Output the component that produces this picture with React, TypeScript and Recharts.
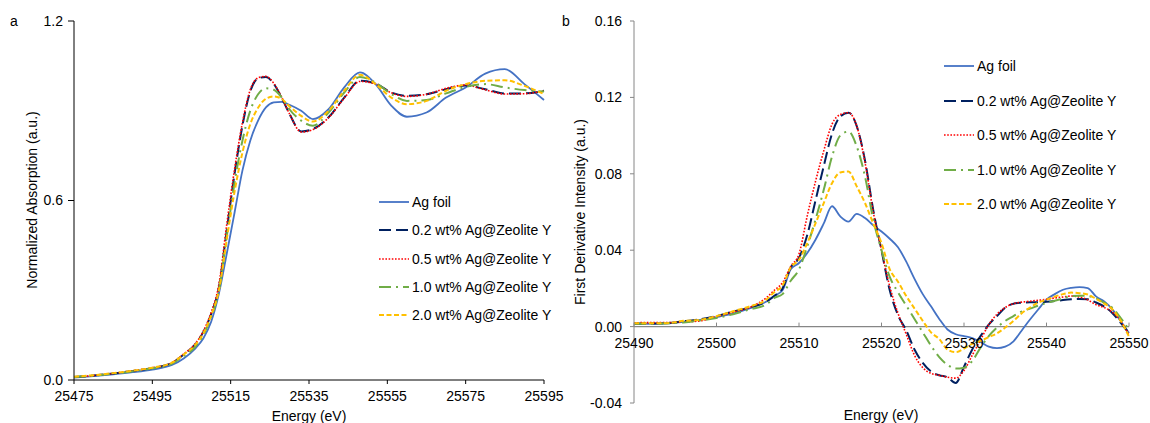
import React from 'react';
import { LineChart, Line, XAxis, YAxis, ReferenceLine, Legend } from 'recharts';

// panel a: normalized Ag K-edge XANES
const absEnergy = [
  25475, 25480, 25485, 25490, 25495, 25500, 25503, 25506, 25508, 25510, 25512, 25514,
  25516, 25518, 25520, 25522, 25524, 25526, 25528, 25530, 25533, 25536, 25540, 25544,
  25548, 25552, 25556, 25560, 25565, 25570, 25575, 25580, 25585, 25590, 25595,
];
const absAgFoil = [
  0.008, 0.013, 0.019, 0.026, 0.035, 0.05, 0.072, 0.106, 0.139, 0.194, 0.289, 0.422,
  0.56, 0.7, 0.8, 0.867, 0.911, 0.928, 0.93, 0.92, 0.9, 0.872, 0.905, 0.978,
  1.028, 0.989, 0.917, 0.88, 0.894, 0.944, 0.978, 1.024, 1.039, 0.989, 0.936,
];
const absAg02 = [
  0.01, 0.015, 0.022, 0.03, 0.04, 0.057, 0.085, 0.12, 0.16, 0.22, 0.31, 0.5,
  0.69, 0.85, 0.965, 1.008, 1.013, 0.99, 0.944, 0.89, 0.831, 0.839, 0.878, 0.944,
  1.0, 0.991, 0.961, 0.95, 0.955, 0.972, 0.984, 0.972, 0.958, 0.958, 0.967,
];
const absAg05 = [
  0.01, 0.015, 0.022, 0.031, 0.041, 0.058, 0.087, 0.122, 0.163, 0.225, 0.32, 0.52,
  0.705, 0.86, 0.97, 1.01, 1.015, 0.992, 0.946, 0.89, 0.829, 0.837, 0.877, 0.942,
  0.998, 0.99, 0.96, 0.948, 0.955, 0.975, 0.986, 0.97, 0.956, 0.957, 0.966,
];
const absAg10 = [
  0.01, 0.014, 0.021, 0.029, 0.039, 0.055, 0.08, 0.112, 0.15, 0.21, 0.3, 0.48,
  0.66, 0.8, 0.9, 0.955, 0.975, 0.97, 0.945, 0.905, 0.867, 0.85, 0.894, 0.961,
  1.013, 0.994, 0.956, 0.933, 0.936, 0.958, 0.98, 0.989, 0.978, 0.969, 0.964,
];
const absAg20 = [
  0.011, 0.016, 0.023, 0.031, 0.041, 0.058, 0.085, 0.118, 0.155, 0.215, 0.3, 0.47,
  0.63, 0.76, 0.855, 0.91, 0.94, 0.948, 0.94, 0.915, 0.883, 0.864, 0.9, 0.967,
  1.02, 0.989, 0.944, 0.922, 0.933, 0.967, 0.989, 1.0, 1.002, 0.983, 0.956,
];
const absXTicks = [25475, 25495, 25515, 25535, 25555, 25575, 25595];
const absYTicks = [0, 0.6, 1.2];

// panel b: first derivative
const derivEnergy = [
  25490, 25492, 25494, 25496, 25498, 25500, 25502, 25504, 25506, 25507, 25508, 25509,
  25510, 25511, 25512, 25513, 25514, 25515, 25516, 25517, 25518, 25519, 25520, 25521,
  25522, 25523, 25524, 25525, 25526, 25527, 25528, 25529, 25530, 25531, 25532, 25533,
  25534, 25535, 25536, 25537, 25538, 25539, 25540, 25541, 25542, 25543, 25544, 25545,
  25546, 25547, 25548, 25549, 25550,
];
const derivAgFoil = [
  0.0015, 0.0015, 0.0016, 0.0025, 0.0035, 0.005, 0.0068, 0.0095, 0.013, 0.016, 0.019, 0.03,
  0.0333, 0.0385, 0.0455, 0.054, 0.063, 0.0577, 0.055, 0.059, 0.0568, 0.053, 0.0498, 0.046,
  0.0415, 0.034, 0.025, 0.017, 0.0106, 0.004, -0.0015, -0.004, -0.005, -0.006, -0.008, -0.0105,
  -0.0113, -0.0105, -0.0077, -0.002, 0.0037, 0.009, 0.0141, 0.017, 0.0193, 0.0203, 0.0207, 0.0202,
  0.0158, 0.0132, 0.0089, 0.0028, -0.0033,
];
const derivAg02 = [
  0.0015, 0.0016, 0.0018, 0.0028, 0.0038, 0.0055, 0.0078, 0.01, 0.013, 0.016, 0.02, 0.031,
  0.036, 0.048, 0.066, 0.084, 0.101, 0.11, 0.112, 0.105, 0.087, 0.061, 0.04, 0.019,
  0.006, -0.002, -0.012, -0.019, -0.0235, -0.0255, -0.0265, -0.0295, -0.021, -0.012, -0.005, 0.001,
  0.0055, 0.01, 0.012, 0.0125, 0.0127, 0.0127, 0.013, 0.0134, 0.0139, 0.0143, 0.0145, 0.0143,
  0.0126, 0.0105, 0.007, 0.002, -0.0035,
];
const derivAg05 = [
  0.002, 0.0021, 0.0021, 0.0024, 0.003, 0.0052, 0.0075, 0.01, 0.015, 0.019, 0.023, 0.0315,
  0.038, 0.058, 0.076, 0.092, 0.106, 0.111, 0.112, 0.105, 0.086, 0.06, 0.04, 0.021,
  0.007, -0.004, -0.015, -0.0215, -0.0245, -0.0255, -0.0265, -0.027, -0.023, -0.015, -0.007, 0.001,
  0.0065, 0.01, 0.012, 0.0128, 0.0133, 0.0138, 0.0143, 0.015, 0.0155, 0.016, 0.0155, 0.014,
  0.0115, 0.01, 0.0075, 0.003, -0.0045,
];
const derivAg10 = [
  0.0015, 0.0015, 0.0017, 0.0022, 0.0032, 0.0045, 0.0065, 0.009, 0.0115, 0.015, 0.017, 0.024,
  0.03, 0.042, 0.056, 0.0716, 0.089, 0.1, 0.1021, 0.0943, 0.0786, 0.056, 0.04, 0.026,
  0.018, 0.011, 0.004, -0.003, -0.01, -0.016, -0.02, -0.022, -0.0215, -0.018, -0.011, -0.005,
  -0.0005, 0.003, 0.0055, 0.008, 0.0094, 0.011, 0.0124, 0.0135, 0.0148, 0.016, 0.0162, 0.016,
  0.0148, 0.0125, 0.0098, 0.0045, -0.0017,
];
const derivAg20 = [
  0.0018, 0.0018, 0.0018, 0.003, 0.0035, 0.0055, 0.008, 0.0105, 0.014, 0.018, 0.0215, 0.031,
  0.035, 0.0437, 0.054, 0.0647, 0.0751, 0.0807, 0.0812, 0.0734, 0.0647, 0.054, 0.0437, 0.03,
  0.0235, 0.016, 0.0095, 0.003, -0.003, -0.0065, -0.012, -0.0134, -0.0115, -0.009, -0.0075, -0.0055,
  -0.0035, -0.0005, 0.003, 0.007, 0.01, 0.0125, 0.0141, 0.0157, 0.017, 0.0178, 0.0175, 0.0168,
  0.0145, 0.012, 0.009, 0.003, -0.0052,
];
const derivXTicks = [25490, 25500, 25510, 25520, 25530, 25540, 25550];
const derivYTicks = [-0.04, 0, 0.04, 0.08, 0.12, 0.16];

const seriesNames = [
  'Ag foil',
  '0.2 wt% Ag@Zeolite Y',
  '0.5 wt% Ag@Zeolite Y',
  '1.0 wt% Ag@Zeolite Y',
  '2.0 wt% Ag@Zeolite Y',
];

const seriesStyles = [
  { key: 'foil', color: '#4472C4', width: 1.8, dash: undefined },
  { key: 's02', color: '#002060', width: 2, dash: '12 5' },
  { key: 's05', color: '#FF0000', width: 1.6, dash: '1.6 1.6' },
  { key: 's10', color: '#70AD47', width: 2, dash: '12 5 2 5' },
  { key: 's20', color: '#FFC000', width: 2, dash: '5 2.5' },
];

const absRows = absEnergy.map((e, i) => ({
  e, foil: absAgFoil[i], s02: absAg02[i], s05: absAg05[i], s10: absAg10[i], s20: absAg20[i],
}));
const derivRows = derivEnergy.map((e, i) => ({
  e, foil: derivAgFoil[i], s02: derivAg02[i], s05: derivAg05[i], s10: derivAg10[i], s20: derivAg20[i],
}));

const FONT = '"Liberation Sans", Arial, sans-serif';
const GREY = '#868686';

// right panel plot box (inside its own svg)
const B_TOP = 21;
const B_BOTTOM = 403;
const zeroY = B_TOP + ((B_BOTTOM - B_TOP) * 0.16) / 0.2;

const ZeroAxisTick = (props: any) => {
  const { x, payload } = props;
  return (
    <g>
      <line x1={x} x2={x} y1={zeroY - 4} y2={zeroY} stroke={GREY} />
      <text x={x} y={zeroY + 21} textAnchor="middle" fontSize={14} fill="#000">
        {payload.value}
      </text>
    </g>
  );
};

const LegendList = ({ rowH }: { rowH: number }) => (
  <div style={{ fontFamily: FONT, fontSize: 14, color: '#000' }}>
    {seriesStyles.map((s, i) => (
      <div key={s.key} style={{ display: 'flex', alignItems: 'center', height: rowH }}>
        <svg width={32} height={10} style={{ display: 'block' }}>
          <line x1={1} y1={5} x2={31} y2={5} stroke={s.color} strokeWidth={s.width} strokeDasharray={s.dash} />
        </svg>
        <span style={{ marginLeft: 2, whiteSpace: 'nowrap' }}>{seriesNames[i]}</span>
      </div>
    ))}
  </div>
);

const textAbs = (left: number, top: number, rotate = false): React.CSSProperties => ({
  position: 'absolute',
  left,
  top,
  transform: rotate ? 'translate(-50%, -50%) rotate(-90deg)' : 'translate(-50%, -50%)',
  whiteSpace: 'nowrap',
  fontSize: 14,
  fontFamily: FONT,
  color: '#000',
});

export default function App() {
  return (
    <div style={{ position: 'absolute', left: 0, top: 0, width: 1150, height: 423, background: '#fff', fontFamily: FONT, overflow: 'hidden' }}>
      <div style={{ position: 'absolute', left: 0, top: 0 }}>
        <LineChart width={580} height={423} data={absRows} margin={{ top: 21, right: 36, bottom: 0, left: 0 }}>
          <XAxis
            dataKey="e"
            type="number"
            domain={[25475, 25595]}
            ticks={absXTicks}
            stroke="#000"
            tickSize={4}
            tickMargin={7}
            height={43}
            tick={{ fontSize: 14, fill: '#000' }}
          />
          <YAxis
            type="number"
            domain={[0, 1.2]}
            ticks={absYTicks}
            tickFormatter={(v: number) => v.toFixed(1)}
            stroke="#000"
            width={74}
            tickSize={6}
            tickMargin={5}
            tick={{ fontSize: 14, fill: '#000' }}
          />
          {seriesStyles.map((s, i) => (
            <Line
              key={s.key}
              type="monotone"
              dataKey={s.key}
              name={seriesNames[i]}
              stroke={s.color}
              strokeWidth={s.width}
              strokeDasharray={s.dash}
              dot={false}
              isAnimationActive={false}
            />
          ))}
          <Legend
            layout="vertical"
            align="center"
            verticalAlign="middle"
            wrapperStyle={{ left: 378, top: 188, width: 'auto' }}
            content={() => <LegendList rowH={28.3} />}
          />
        </LineChart>
      </div>

      <div style={{ position: 'absolute', left: 560, top: 0 }}>
        <LineChart width={590} height={423} data={derivRows} margin={{ top: B_TOP, right: 21, bottom: 0, left: 0 }}>
          <ReferenceLine y={0} stroke={GREY} strokeWidth={1.2} />
          <XAxis
            dataKey="e"
            type="number"
            domain={[25490, 25550]}
            ticks={derivXTicks}
            axisLine={false}
            tickLine={false}
            height={423 - B_BOTTOM}
            tick={<ZeroAxisTick />}
          />
          <YAxis
            type="number"
            domain={[-0.04, 0.16]}
            ticks={derivYTicks}
            tickFormatter={(v: number) => v.toFixed(2)}
            stroke={GREY}
            width={74}
            tickSize={4}
            tickMargin={8}
            tick={{ fontSize: 14, fill: '#000' }}
          />
          {seriesStyles.map((s, i) => (
            <Line
              key={s.key}
              type="monotone"
              dataKey={s.key}
              name={seriesNames[i]}
              stroke={s.color}
              strokeWidth={s.width}
              strokeDasharray={s.dash}
              dot={false}
              isAnimationActive={false}
            />
          ))}
          <Legend
            layout="vertical"
            align="center"
            verticalAlign="middle"
            wrapperStyle={{ left: 383, top: 49, width: 'auto' }}
            content={() => <LegendList rowH={34.5} />}
          />
        </LineChart>
      </div>

      <div style={textAbs(14, 21)}>a</div>
      <div style={textAbs(566, 21)}>b</div>
      <div style={textAbs(32, 200, true)}>Normalized Absorption (a.u.)</div>
      <div style={textAbs(309, 416)}>Energy (eV)</div>
      <div style={textAbs(580, 212, true)}>First Derivative Intensity (a.u.)</div>
      <div style={textAbs(881, 415)}>Energy (eV)</div>
    </div>
  );
}
